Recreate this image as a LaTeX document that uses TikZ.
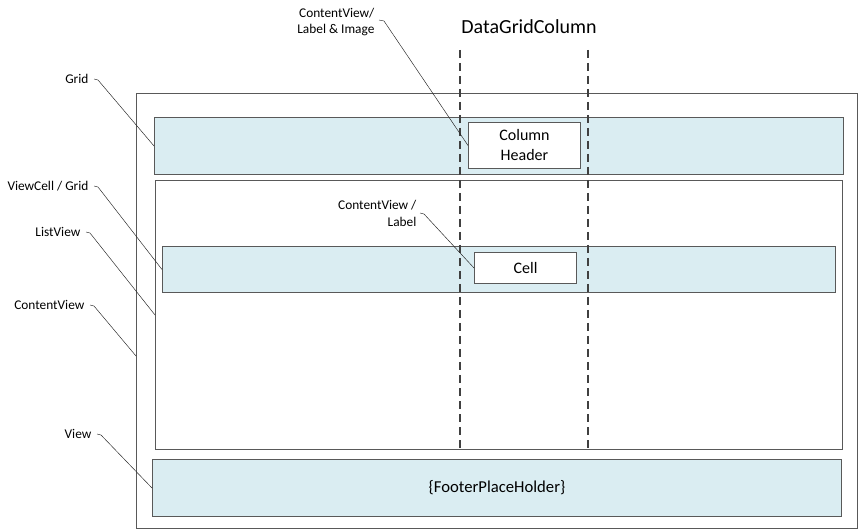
\documentclass[tikz,border=0pt]{standalone}
\usepackage{fontspec}
\setmainfont{Carlito}
\begin{document}
\begin{tikzpicture}[x=0.75pt,y=-0.75pt,
  box/.style={draw=black!65, line width=0.75pt, inner sep=0pt, anchor=north west},
  band/.style={box, fill=bandblue},
  whitebox/.style={box, fill=white},
  lbl/.style={font=\fontsize{10}{11.5}\selectfont, inner sep=1pt, align=right},
  callout/.style={draw=black!85, line width=0.35pt},
  colline/.style={draw=black!75, line width=0.85pt, dash pattern=on 6pt off 3.75pt}
]
\definecolor{bandblue}{HTML}{DAEDF2}
\useasboundingbox (0,0) rectangle (859,530);
% outer ContentView
\node[whitebox, minimum width=721*0.75pt, minimum height=435*0.75pt] (outer) at (136,93) {};
% header grid band
\node[band, minimum width=689*0.75pt, minimum height=57*0.75pt] (grid) at (154,117) {};
% listview
\node[whitebox, minimum width=687*0.75pt, minimum height=269*0.75pt] (list) at (155,180) {};
% viewcell band
\node[band, minimum width=673*0.75pt, minimum height=46*0.75pt] (vcell) at (162,246) {};
% footer band
\node[band, minimum width=689*0.75pt, minimum height=57*0.75pt, font=\fontsize{12.5}{14}\selectfont] (footer) at (152,459) {\{FooterPlaceHolder\}};
% dashed column lines
\coordinate (c1t) at (460,50); \coordinate (c1b) at (460,450);
\coordinate (c2t) at (588,50); \coordinate (c2b) at (588,450);
\draw[colline] (c1t) -- (c1b);
\draw[colline] (c2t) -- (c2b);
% column header and cell
\node[whitebox, minimum width=112*0.75pt, minimum height=46*0.75pt, align=center, font=\fontsize{12}{15}\selectfont] (colhdr) at (468,122) {Column\\Header};
\node[whitebox, minimum width=102*0.75pt, minimum height=31*0.75pt, font=\fontsize{12}{14}\selectfont] (cell) at (474,252) {Cell};
% title
\node[font=\fontsize{15}{17}\selectfont, inner sep=0pt] (title) at (529,27) {DataGridColumn};
% labels
\node[lbl, anchor=east] (lgrid) at (90,79) {Grid};
\node[lbl, anchor=east] (lvcell) at (90,186) {ViewCell / Grid};
\node[lbl, anchor=east] (llist) at (82,232) {ListView};
\node[lbl, anchor=east] (lcv) at (86,305) {ContentView};
\node[lbl, anchor=east] (lview) at (93,434) {View};
\node[lbl, anchor=east] (lhdr) at (376,22) {ContentView/\\Label \& Image};
\node[lbl, anchor=east, font=\fontsize{10}{12.75}\selectfont] (lcell) at (418,213) {ContentView /\\Label};
\coordinate (cvtarget) at (136,356);
% callouts
\draw[callout] (lgrid.east) ++(4,0) -- ++(4,1) -- (grid.west);
\draw[callout] (lvcell.east) ++(4,0) -- ++(4,1) -- (vcell.west);
\draw[callout] (llist.east) ++(4,0) -- ++(4,1) -- (list.west);
\draw[callout] (lcv.east) ++(4,0) -- ++(4,1) -- (cvtarget);
\draw[callout] (lview.east) ++(4,0) -- ++(4,1) -- (footer.west);
\draw[callout] (lhdr.east) ++(3,-2) -- ++(5,1) -- (colhdr.west);
\draw[callout] (lcell.east) ++(2,0) -- ++(4,1) -- (cell.west);
\end{tikzpicture}
\end{document}
